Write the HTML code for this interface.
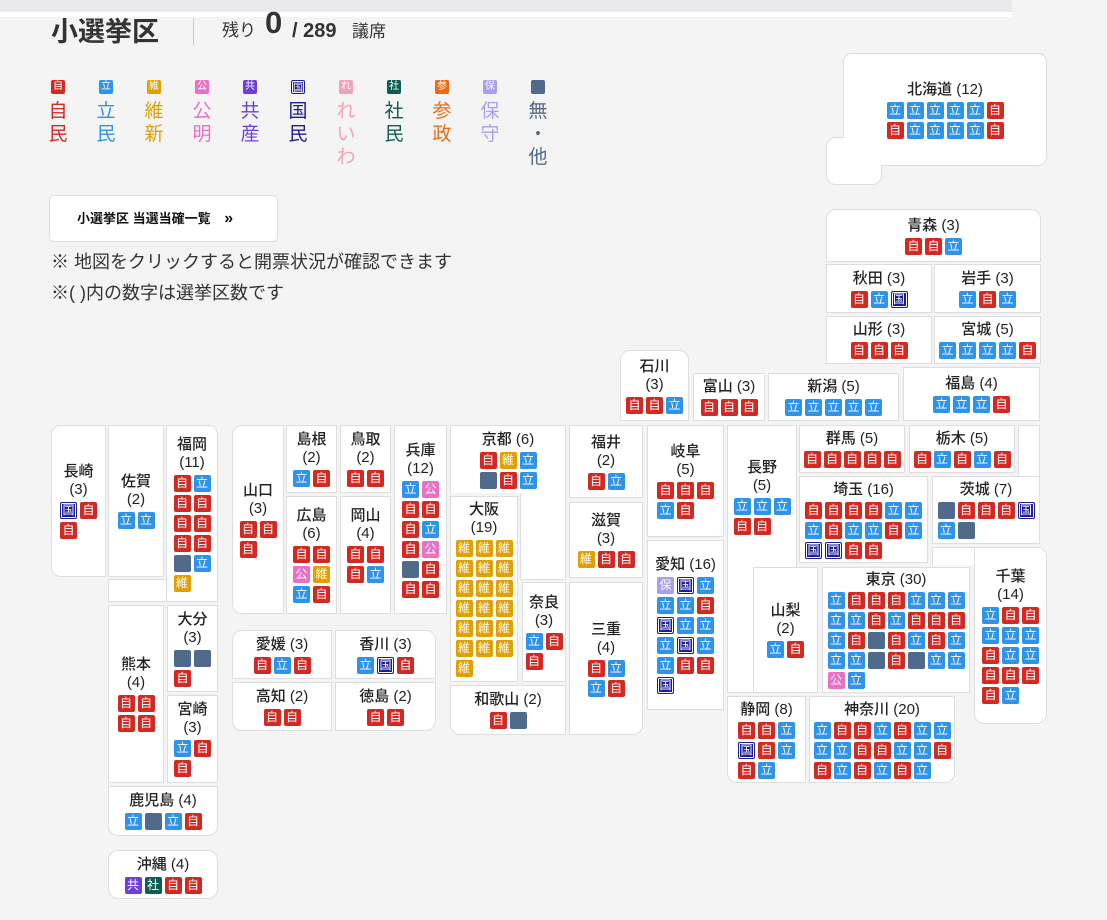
<!DOCTYPE html>
<html><head><meta charset="utf-8">
<style>
body{margin:0;width:1107px;height:920px;background:#f4f4f4;font-family:"Liberation Sans","Noto Sans CJK JP",sans-serif;position:relative;overflow:hidden;color:#222}
.top{position:absolute;left:0;top:0;width:1012px;height:12px;background:#e9e9ee}
.top2{position:absolute;left:0;top:12px;width:1012px;height:5px;background:#fff}
.b{position:absolute;background:#fff;border:1px solid #dedede;box-sizing:border-box;display:flex;flex-direction:column;align-items:center;justify-content:center}
.t{font-size:15px;line-height:18px;text-align:center;color:#222;font-weight:500;white-space:nowrap}
.g{display:flex;flex-wrap:wrap;gap:3px;margin-top:3px}
.g i,.lg i{width:17px;height:17px;border-radius:2px;font-style:normal;color:#fff;font-size:12px;line-height:17px;text-align:center;box-sizing:border-box;display:block}
.j{background:#d22a23}.r{background:#2f93e9}.i{background:#e2a000}.k{background:#ea6fc6}.c{background:#6c40d8}
.n{background:#1c1c9a;border:1px solid #1c1c9a;box-shadow:inset 0 0 0 1px #fff;line-height:15px!important}
.s{background:#0f5c52}.h{background:#a99ef0}.m{background:#4f6a8a}.w{background:#f3a3b5}.p{background:#ec6a14}
.w2{width:37px}.w3{width:57px}.w4{width:77px}.w5{width:97px}.w6{width:117px}.w7{width:137px}
.lg{position:absolute;top:80px;width:30px;text-align:center}
.lg i{width:14px;height:14px;font-size:10px;line-height:14px;margin:0 auto}
.lg span{display:block;font-size:19px;line-height:23px;margin-top:6px;width:30px;text-align:center}
</style></head><body>
<div class="top"></div><div class="top2"></div>
<div style="position:absolute;left:51px;top:15px;font-size:27px;font-weight:bold;color:#333;line-height:34px">小選挙区</div>
<div style="position:absolute;left:193px;top:18px;width:1px;height:27px;background:#ccc"></div>
<div style="position:absolute;left:222px;top:19px;font-size:17px;line-height:24px;color:#333">残り</div>
<div style="position:absolute;left:265px;top:4px;font-size:31px;font-weight:bold;line-height:38px;color:#333">0</div>
<div style="position:absolute;left:292px;top:18px;font-size:20px;font-weight:bold;line-height:26px;color:#333">/ 289</div>
<div style="position:absolute;left:352px;top:20px;font-size:17px;line-height:24px;color:#333">議席</div>

<div class="lg" style="left:43px"><i class="j">自</i><span style="color:#d22a23">自<br>民</span></div>
<div class="lg" style="left:91px"><i class="r">立</i><span style="color:#2f93e9">立<br>民</span></div>
<div class="lg" style="left:139px"><i class="i">維</i><span style="color:#e2a000">維<br>新</span></div>
<div class="lg" style="left:187px"><i class="k">公</i><span style="color:#ea6fc6">公<br>明</span></div>
<div class="lg" style="left:235px"><i class="c">共</i><span style="color:#6c40d8">共<br>産</span></div>
<div class="lg" style="left:283px"><i class="n">国</i><span style="color:#1c1c9a">国<br>民</span></div>
<div class="lg" style="left:331px"><i class="w">れ</i><span style="color:#f3a3b5">れ<br>い<br>わ</span></div>
<div class="lg" style="left:379px"><i class="s">社</i><span style="color:#0f5c52">社<br>民</span></div>
<div class="lg" style="left:427px"><i class="p">参</i><span style="color:#ec6a14">参<br>政</span></div>
<div class="lg" style="left:475px"><i class="h">保</i><span style="color:#a99ef0">保<br>守</span></div>
<div class="lg" style="left:523px"><i class="m"></i><span style="color:#4f6a8a">無<br>・<br>他</span></div>

<div style="position:absolute;left:49px;top:195px;width:229px;height:47px;background:#fff;border:1px solid #ddd;border-radius:5px;box-sizing:border-box;font-size:13px;font-weight:bold;line-height:45px;padding-left:27px;color:#111">小選挙区 当選当確一覧 <span style="margin-left:10px;font-size:16px">»</span></div>
<div style="position:absolute;left:51px;top:250px;font-size:18px;line-height:24px;color:#333">※ 地図をクリックすると開票状況が確認できます</div>
<div style="position:absolute;left:51px;top:281px;font-size:18px;line-height:24px;color:#333">※( )内の数字は選挙区数です</div>

<!-- Kyushu -->
<div class="b" style="left:51px;top:425px;width:55px;height:152px;border-radius:10px 0 0 10px"><div class="t">長崎<br>(3)</div><div class="g w2"><i class="n">国</i><i class="j">自</i><i class="j">自</i></div></div>
<div class="b" style="left:108px;top:425px;width:56px;height:152px"><div class="t">佐賀<br>(2)</div><div class="g w2"><i class="r">立</i><i class="r">立</i></div></div>
<div class="b" style="left:108px;top:579px;width:110px;height:23px"></div>
<div class="b" style="left:166px;top:425px;width:52px;height:176px;border-radius:0 10px 0 0;border-bottom:none"><div class="t">福岡<br>(11)</div><div class="g w2"><i class="j">自</i><i class="r">立</i><i class="j">自</i><i class="j">自</i><i class="j">自</i><i class="j">自</i><i class="j">自</i><i class="j">自</i><i class="m"></i><i class="r">立</i><i class="i">維</i></div></div>
<div class="b" style="left:108px;top:605px;width:56px;height:178px"><div class="t">熊本<br>(4)</div><div class="g w2"><i class="j">自</i><i class="j">自</i><i class="j">自</i><i class="j">自</i></div></div>
<div class="b" style="left:167px;top:605px;width:51px;height:87px"><div class="t">大分<br>(3)</div><div class="g w2"><i class="m"></i><i class="m"></i><i class="j">自</i></div></div>
<div class="b" style="left:167px;top:695px;width:51px;height:88px"><div class="t">宮崎<br>(3)</div><div class="g w2"><i class="r">立</i><i class="j">自</i><i class="j">自</i></div></div>
<div class="b" style="left:108px;top:786px;width:110px;height:50px;border-radius:0 0 10px 10px"><div class="t">鹿児島 (4)</div><div class="g w4"><i class="r">立</i><i class="m"></i><i class="r">立</i><i class="j">自</i></div></div>
<div class="b" style="left:108px;top:850px;width:110px;height:49px;border-radius:10px"><div class="t">沖縄 (4)</div><div class="g w4"><i class="c">共</i><i class="s">社</i><i class="j">自</i><i class="j">自</i></div></div>

<!-- Chugoku / Shikoku -->
<div class="b" style="left:232px;top:425px;width:52px;height:189px;border-radius:10px 0 0 10px"><div class="t">山口<br>(3)</div><div class="g w2"><i class="j">自</i><i class="j">自</i><i class="j">自</i></div></div>
<div class="b" style="left:286px;top:425px;width:51px;height:68px"><div class="t">島根<br>(2)</div><div class="g w2"><i class="r">立</i><i class="j">自</i></div></div>
<div class="b" style="left:340px;top:425px;width:51px;height:68px"><div class="t">鳥取<br>(2)</div><div class="g w2"><i class="j">自</i><i class="j">自</i></div></div>
<div class="b" style="left:286px;top:496px;width:51px;height:118px"><div class="t">広島<br>(6)</div><div class="g w2"><i class="j">自</i><i class="j">自</i><i class="k">公</i><i class="i">維</i><i class="r">立</i><i class="j">自</i></div></div>
<div class="b" style="left:340px;top:496px;width:51px;height:118px;justify-content:flex-start;padding-top:10px"><div class="t">岡山<br>(4)</div><div class="g w2"><i class="j">自</i><i class="j">自</i><i class="j">自</i><i class="r">立</i></div></div>
<div class="b" style="left:394px;top:425px;width:53px;height:189px"><div class="t">兵庫<br>(12)</div><div class="g w2"><i class="r">立</i><i class="k">公</i><i class="j">自</i><i class="j">自</i><i class="j">自</i><i class="r">立</i><i class="j">自</i><i class="k">公</i><i class="m"></i><i class="j">自</i><i class="j">自</i><i class="j">自</i></div></div>
<div class="b" style="left:232px;top:630px;width:100px;height:49px;border-radius:10px 0 0 0"><div class="t">愛媛 (3)</div><div class="g w3"><i class="j">自</i><i class="r">立</i><i class="j">自</i></div></div>
<div class="b" style="left:335px;top:630px;width:101px;height:49px;border-radius:0 10px 0 0"><div class="t">香川 (3)</div><div class="g w3"><i class="r">立</i><i class="n">国</i><i class="j">自</i></div></div>
<div class="b" style="left:232px;top:682px;width:100px;height:49px;border-radius:0 0 0 10px"><div class="t">高知 (2)</div><div class="g w2"><i class="j">自</i><i class="j">自</i></div></div>
<div class="b" style="left:335px;top:682px;width:101px;height:49px;border-radius:0 0 10px 0"><div class="t">徳島 (2)</div><div class="g w2"><i class="j">自</i><i class="j">自</i></div></div>

<!-- Kinki -->
<div class="b" style="left:520px;top:425px;width:46px;height:155px"></div>
<div class="b" style="left:450px;top:425px;width:116px;height:68px;border-bottom:none"><div class="t">京都 (6)</div><div class="g w3"><i class="j">自</i><i class="i">維</i><i class="r">立</i><i class="m"></i><i class="j">自</i><i class="r">立</i></div></div>
<div class="b" style="left:450px;top:496px;width:68px;height:186px"><div class="t">大阪<br>(19)</div><div class="g w3"><i class="i">維</i><i class="i">維</i><i class="i">維</i><i class="i">維</i><i class="i">維</i><i class="i">維</i><i class="i">維</i><i class="i">維</i><i class="i">維</i><i class="i">維</i><i class="i">維</i><i class="i">維</i><i class="i">維</i><i class="i">維</i><i class="i">維</i><i class="i">維</i><i class="i">維</i><i class="i">維</i><i class="i">維</i></div></div>
<div class="b" style="left:522px;top:582px;width:44px;height:100px"><div class="t">奈良<br>(3)</div><div class="g w2"><i class="r">立</i><i class="j">自</i><i class="j">自</i></div></div>
<div class="b" style="left:450px;top:685px;width:116px;height:50px;border-radius:0 0 0 10px"><div class="t">和歌山 (2)</div><div class="g w2"><i class="j">自</i><i class="m"></i></div></div>
<div class="b" style="left:569px;top:425px;width:74px;height:73px"><div class="t">福井<br>(2)</div><div class="g w2"><i class="j">自</i><i class="r">立</i></div></div>
<div class="b" style="left:569px;top:502px;width:74px;height:76px"><div class="t">滋賀<br>(3)</div><div class="g w3"><i class="i">維</i><i class="j">自</i><i class="j">自</i></div></div>
<div class="b" style="left:569px;top:582px;width:74px;height:153px;border-radius:0 0 10px 0"><div class="t">三重<br>(4)</div><div class="g w2"><i class="j">自</i><i class="r">立</i><i class="r">立</i><i class="j">自</i></div></div>

<!-- Chubu -->
<div class="b" style="left:620px;top:350px;width:69px;height:71px;border-radius:10px 10px 0 0"><div class="t">石川<br>(3)</div><div class="g w3"><i class="j">自</i><i class="j">自</i><i class="r">立</i></div></div>
<div class="b" style="left:693px;top:373px;width:72px;height:48px"><div class="t">富山 (3)</div><div class="g w3"><i class="j">自</i><i class="j">自</i><i class="j">自</i></div></div>
<div class="b" style="left:768px;top:373px;width:131px;height:48px"><div class="t">新潟 (5)</div><div class="g w5"><i class="r">立</i><i class="r">立</i><i class="r">立</i><i class="r">立</i><i class="r">立</i></div></div>
<div class="b" style="left:903px;top:367px;width:137px;height:54px"><div class="t">福島 (4)</div><div class="g w4"><i class="r">立</i><i class="r">立</i><i class="r">立</i><i class="j">自</i></div></div>
<div class="b" style="left:647px;top:425px;width:77px;height:112px"><div class="t">岐阜<br>(5)</div><div class="g w3"><i class="j">自</i><i class="j">自</i><i class="j">自</i><i class="r">立</i><i class="j">自</i></div></div>
<div class="b" style="left:647px;top:540px;width:77px;height:170px"><div class="t">愛知 (16)</div><div class="g w3"><i class="h">保</i><i class="n">国</i><i class="r">立</i><i class="r">立</i><i class="r">立</i><i class="j">自</i><i class="n">国</i><i class="r">立</i><i class="r">立</i><i class="r">立</i><i class="n">国</i><i class="r">立</i><i class="r">立</i><i class="j">自</i><i class="j">自</i><i class="n">国</i></div></div>
<div class="b" style="left:727px;top:425px;width:27px;height:268px"></div>
<div class="b" style="left:727px;top:425px;width:70px;height:142px;border-bottom:none"><div class="t">長野<br>(5)</div><div class="g w3"><i class="r">立</i><i class="r">立</i><i class="r">立</i><i class="j">自</i><i class="j">自</i></div></div>
<div class="b" style="left:753px;top:567px;width:65px;height:126px"><div class="t">山梨<br>(2)</div><div class="g w2"><i class="r">立</i><i class="j">自</i></div></div>
<div class="b" style="left:727px;top:696px;width:79px;height:87px;border-radius:0 0 0 10px"><div class="t">静岡 (8)</div><div class="g w3"><i class="j">自</i><i class="j">自</i><i class="r">立</i><i class="n">国</i><i class="j">自</i><i class="r">立</i><i class="j">自</i><i class="r">立</i></div></div>

<!-- Kanto -->
<div class="b" style="left:799px;top:425px;width:106px;height:48px"><div class="t">群馬 (5)</div><div class="g w5"><i class="j">自</i><i class="j">自</i><i class="j">自</i><i class="j">自</i><i class="j">自</i></div></div>
<div class="b" style="left:909px;top:425px;width:106px;height:48px"><div class="t">栃木 (5)</div><div class="g w5"><i class="j">自</i><i class="r">立</i><i class="j">自</i><i class="r">立</i><i class="j">自</i></div></div>
<div class="b" style="left:1018px;top:425px;width:22px;height:119px"></div>
<div class="b" style="left:932px;top:476px;width:108px;height:68px"><div class="t">茨城 (7)</div><div class="g w5"><i class="m"></i><i class="j">自</i><i class="j">自</i><i class="j">自</i><i class="n">国</i><i class="r">立</i><i class="m"></i></div></div>
<div class="b" style="left:799px;top:476px;width:129px;height:87px"><div class="t">埼玉 (16)</div><div class="g w6"><i class="j">自</i><i class="j">自</i><i class="j">自</i><i class="j">自</i><i class="r">立</i><i class="r">立</i><i class="r">立</i><i class="j">自</i><i class="r">立</i><i class="r">立</i><i class="j">自</i><i class="r">立</i><i class="n">国</i><i class="n">国</i><i class="j">自</i><i class="j">自</i></div></div>
<div class="b" style="left:932px;top:547px;width:45px;height:18px;border-bottom:none"></div>
<div class="b" style="left:974px;top:547px;width:73px;height:177px;border-radius:0 10px 10px 10px"><div class="t">千葉<br>(14)</div><div class="g w3"><i class="r">立</i><i class="j">自</i><i class="j">自</i><i class="r">立</i><i class="r">立</i><i class="r">立</i><i class="j">自</i><i class="r">立</i><i class="r">立</i><i class="j">自</i><i class="j">自</i><i class="j">自</i><i class="j">自</i><i class="r">立</i></div></div>
<div class="b" style="left:822px;top:567px;width:148px;height:126px"><div class="t">東京 (30)</div><div class="g w7"><i class="r">立</i><i class="j">自</i><i class="j">自</i><i class="j">自</i><i class="r">立</i><i class="r">立</i><i class="r">立</i><i class="r">立</i><i class="r">立</i><i class="j">自</i><i class="r">立</i><i class="j">自</i><i class="j">自</i><i class="j">自</i><i class="r">立</i><i class="j">自</i><i class="m"></i><i class="j">自</i><i class="r">立</i><i class="j">自</i><i class="r">立</i><i class="r">立</i><i class="r">立</i><i class="m"></i><i class="j">自</i><i class="m"></i><i class="r">立</i><i class="r">立</i><i class="k">公</i><i class="r">立</i></div></div>
<div class="b" style="left:809px;top:696px;width:146px;height:87px;border-radius:0 0 10px 0"><div class="t">神奈川 (20)</div><div class="g w7"><i class="r">立</i><i class="j">自</i><i class="j">自</i><i class="r">立</i><i class="j">自</i><i class="r">立</i><i class="r">立</i><i class="r">立</i><i class="r">立</i><i class="j">自</i><i class="j">自</i><i class="r">立</i><i class="r">立</i><i class="j">自</i><i class="j">自</i><i class="r">立</i><i class="j">自</i><i class="r">立</i><i class="j">自</i><i class="r">立</i></div></div>

<!-- Tohoku / Hokkaido -->
<div class="b" style="left:826px;top:137px;width:56px;height:48px;border-radius:10px 0 10px 10px"></div>
<div class="b" style="left:843px;top:53px;width:204px;height:113px;border-radius:9px"><div class="t">北海道 (12)</div><div class="g w6"><i class="r">立</i><i class="r">立</i><i class="r">立</i><i class="r">立</i><i class="r">立</i><i class="j">自</i><i class="j">自</i><i class="r">立</i><i class="r">立</i><i class="r">立</i><i class="r">立</i><i class="j">自</i></div></div>
<div style="position:absolute;left:842px;top:138px;width:39px;height:34px;background:#fff"></div>
<div class="b" style="left:826px;top:209px;width:215px;height:53px;border-radius:10px 10px 0 0"><div class="t">青森 (3)</div><div class="g w3"><i class="j">自</i><i class="j">自</i><i class="r">立</i></div></div>
<div class="b" style="left:826px;top:264px;width:106px;height:49px"><div class="t">秋田 (3)</div><div class="g w3"><i class="j">自</i><i class="r">立</i><i class="n">国</i></div></div>
<div class="b" style="left:934px;top:264px;width:107px;height:49px"><div class="t">岩手 (3)</div><div class="g w3"><i class="r">立</i><i class="j">自</i><i class="r">立</i></div></div>
<div class="b" style="left:826px;top:316px;width:106px;height:48px"><div class="t">山形 (3)</div><div class="g w3"><i class="j">自</i><i class="j">自</i><i class="j">自</i></div></div>
<div class="b" style="left:934px;top:316px;width:107px;height:48px"><div class="t">宮城 (5)</div><div class="g w5"><i class="r">立</i><i class="r">立</i><i class="r">立</i><i class="r">立</i><i class="j">自</i></div></div>
</body></html>
